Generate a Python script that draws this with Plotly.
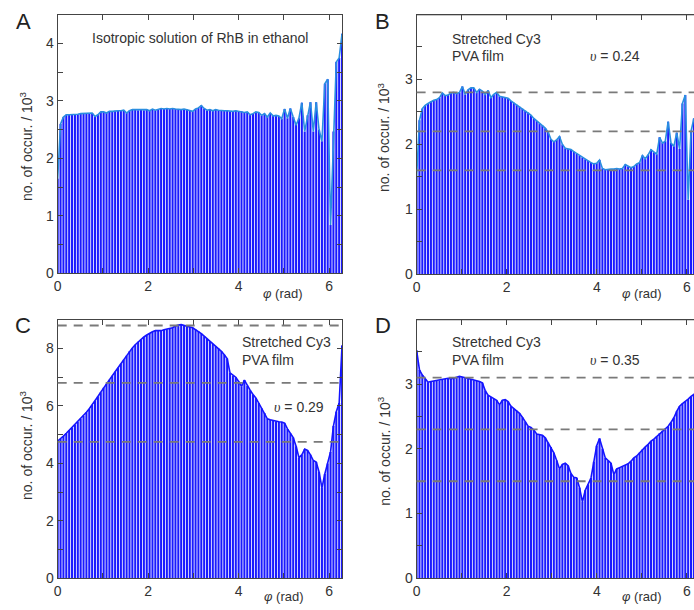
import numpy as np
import plotly.graph_objects as go

# ---------------- data ----------------
n_bins = 100
phi = list(np.linspace(0, 2 * np.pi, n_bins))  # bin positions (rad)

counts_A = [1.65, 2.6, 2.72, 2.76, 2.76, 2.76, 2.77, 2.77, 2.78, 2.78,
            2.78, 2.79, 2.79, 2.73, 2.76, 2.81, 2.81, 2.79, 2.82, 2.82,
            2.83, 2.83, 2.83, 2.84, 2.79, 2.83, 2.85, 2.85, 2.84, 2.85,
            2.84, 2.85, 2.83, 2.86, 2.84, 2.86, 2.87, 2.86, 2.87, 2.86,
            2.87, 2.86, 2.85, 2.85, 2.86, 2.85, 2.84, 2.82, 2.86, 2.88,
            2.92, 2.87, 2.84, 2.85, 2.83, 2.85, 2.84, 2.83, 2.83, 2.83,
            2.82, 2.82, 2.83, 2.82, 2.82, 2.80, 2.81, 2.76, 2.78, 2.81,
            2.80, 2.75, 2.78, 2.72, 2.79, 2.74, 2.75, 2.74, 2.69, 2.86,
            2.70, 2.87, 2.72, 2.58, 2.70, 2.97, 2.47, 2.75, 2.98, 2.47,
            2.98, 2.50, 2.30, 3.30, 3.38, 0.84, 2.47, 3.68, 3.75, 4.17]

counts_B = [1.50, 2.37, 2.55, 2.60, 2.63, 2.66, 2.68, 2.69, 2.72, 2.79,
            2.75, 2.76, 2.79, 2.80, 2.78, 2.80, 2.89, 2.77, 2.84, 2.87,
            2.87, 2.80, 2.85, 2.82, 2.77, 2.83, 2.72, 2.77, 2.80, 2.74,
            2.73, 2.73, 2.71, 2.67, 2.64, 2.61, 2.58, 2.55, 2.52, 2.49,
            2.45, 2.40, 2.36, 2.32, 2.29, 2.25, 2.19, 2.08, 2.04, 2.07,
            2.12, 2.00, 1.94, 1.93, 1.92, 1.89, 1.86, 1.83, 1.80, 1.77,
            1.75, 1.72, 1.70, 1.71, 1.76, 1.63, 1.61, 1.62, 1.62, 1.62,
            1.63, 1.62, 1.63, 1.69, 1.66, 1.64, 1.66, 1.70, 1.72, 1.83,
            1.78, 1.84, 1.92, 1.88, 1.85, 2.11, 2.02, 2.05, 2.35, 2.02,
            1.97, 2.18, 1.93, 2.63, 2.76, 1.15, 2.20, 2.40, 2.30, 2.00]

counts_C = [4.78, 4.85, 4.95, 5.05, 5.15, 5.25, 5.35, 5.45, 5.55, 5.66,
            5.78, 5.90, 6.03, 6.17, 6.33, 6.48, 6.63, 6.77, 6.91, 7.05,
            7.19, 7.33, 7.47, 7.61, 7.75, 7.90, 8.02, 8.13, 8.23, 8.32,
            8.40, 8.47, 8.53, 8.58, 8.62, 8.61, 8.62, 8.65, 8.67, 8.70,
            8.72, 8.78, 8.82, 8.83, 8.81, 8.78, 8.75, 8.72, 8.66, 8.60,
            8.52, 8.43, 8.34, 8.25, 8.16, 8.08, 8.00, 7.90, 7.78, 7.65,
            7.15, 7.06, 7.00, 6.85, 6.68, 6.90, 6.70, 6.55, 6.40, 6.28,
            6.10, 5.92, 5.75, 5.55, 5.52, 5.49, 5.47, 5.45, 5.44, 5.40,
            5.20, 5.05, 4.90, 4.60, 4.20, 4.30, 4.50, 4.45, 4.30, 4.10,
            4.05, 3.70, 3.15, 3.63, 4.00, 4.40, 5.30, 5.80, 6.10, 8.10]

counts_D = [3.52, 3.22, 3.14, 3.08, 3.03, 3.04, 3.05, 3.05, 3.06, 3.07,
            3.08, 3.09, 3.08, 3.09, 3.11, 3.12, 3.11, 3.10, 3.09, 3.08,
            3.06, 3.05, 3.04, 3.02, 2.90, 2.83, 2.80, 2.77, 2.75, 2.68,
            2.75, 2.76, 2.73, 2.66, 2.62, 2.59, 2.55, 2.49, 2.42, 2.35,
            2.33, 2.29, 2.23, 2.22, 2.21, 2.17, 2.10, 2.03, 1.94, 1.82,
            1.69, 1.76, 1.78, 1.74, 1.62, 1.56, 1.55, 1.40, 1.18, 1.36,
            1.45, 1.55, 1.80, 2.05, 2.16, 2.00, 1.86, 1.82, 1.78, 1.60,
            1.69, 1.71, 1.73, 1.75, 1.77, 1.81, 1.86, 1.89, 1.94, 1.99,
            2.03, 2.07, 2.12, 2.15, 2.19, 2.24, 2.28, 2.31, 2.35, 2.41,
            2.48, 2.58, 2.66, 2.70, 2.73, 2.77, 2.81, 2.84, 2.90, 2.95]

levels_B = [2.8, 2.2, 1.6]
levels_C = [8.8, 6.8, 4.75]
levels_D = [3.1, 2.3, 1.5]

labels = ["A", "B", "C", "D"]

# ---------------- figure ----------------
W, H = 694, 610
FONT = "Liberation Sans, Arial, sans-serif"
TXT = "#333333"
AX = "#444444"

def px_x(p):
    return p / W

def px_y(p):
    return 1 - p / H

panels = [
    dict(v=counts_A, lv=[], lc="#2a8ee0", xd=(54, 340), yd=(15, 277), yr=4.5, dt=1, mt=0.5, xr=2 * np.pi, mir=True),
    dict(v=counts_B, lv=levels_B, lc="#2a8ee0", xd=(415, 694), yd=(15, 278), yr=3.995, dt=1, mt=0.5, xr=(694 - 415) / 45.3, mir=False),
    dict(v=counts_C, lv=levels_C, lc="#1414ff", xd=(54, 340), yd=(324, 586), yr=9.0, dt=2, mt=1, xr=2 * np.pi, mir=True),
    dict(v=counts_D, lv=levels_D, lc="#1414ff", xd=(415, 694), yd=(324, 586), yr=3.995, dt=1, mt=0.5, xr=(694 - 415) / 45.3, mir=False),
]

fig = go.Figure()
shapes = []
layout = {}

for k, p in enumerate(panels):
    sx = "" if k == 0 else str(k + 1)
    xa, ya = "x" + sx, "y" + sx
    fig.add_trace(go.Bar(x=phi, y=p["v"], xaxis=xa, yaxis=ya,
                         marker=dict(color="#1a1aff", line=dict(width=0)),
                         showlegend=False, hoverinfo="skip"))
    fig.add_trace(go.Scatter(x=phi, y=p["v"], xaxis=xa, yaxis=ya, mode="lines",
                             line=dict(color=p["lc"], width=1.6),
                             showlegend=False, hoverinfo="skip"))
    common = dict(showline=True, linecolor=AX, linewidth=1, ticks="inside", ticklen=5,
                  tickcolor=AX, tickwidth=1, showgrid=False, zeroline=False,
                  tickfont=dict(family=FONT, size=14, color=TXT))
    layout["xaxis" + sx] = dict(common, domain=[px_x(p["xd"][0]), px_x(p["xd"][1])],
                                range=[0, p["xr"]], anchor=ya, tickmode="linear", tick0=0, dtick=2,
                                minor=dict(ticks="inside", ticklen=5, tickcolor=AX, dtick=1, tick0=0, showgrid=False),
                                mirror="ticks")
    layout["yaxis" + sx] = dict(common, domain=[px_y(p["yd"][1]), px_y(p["yd"][0])],
                                range=[0, p["yr"]], anchor=xa, tickmode="linear", tick0=0, dtick=p["dt"],
                                minor=dict(ticks="inside", ticklen=5, tickcolor=AX, dtick=p["mt"], tick0=0, showgrid=False),
                                mirror="ticks" if p["mir"] else False)
    for lv in p["lv"]:
        shapes.append(dict(type="line", xref=xa + " domain", yref=ya, x0=0, x1=1, y0=lv, y1=lv,
                           line=dict(color="#7a7a7a", width=1.8, dash="9px,7px"), layer="above"))
    if not p["mir"]:
        # top border only (right side cut off in the reference)
        shapes.append(dict(type="line", xref=xa + " domain", yref=ya + " domain", x0=0, x1=1, y0=1, y1=1,
                           line=dict(color=AX, width=1), layer="above"))

ann = []
def add_text(text, xp, yp, size=14, xanchor="center", yanchor="middle", angle=0, color=TXT):
    ann.append(dict(text=text, x=px_x(xp), y=px_y(yp), xref="paper", yref="paper",
                    showarrow=False, xanchor=xanchor, yanchor=yanchor, textangle=angle,
                    font=dict(family=FONT, size=size, color=color)))

for lab, (xp, yp) in zip(labels, [(20, 22), (381, 22), (19, 330), (381, 330)]):
    add_text(lab, xp, yp, size=22, color="#222222")

ytitle = "no. of occur. / 10<sup>3</sup>"
for xp, yp in [(22, 148), (382, 139), (22, 451), (382, 457)]:
    add_text(ytitle, xp, yp, size=14, angle=-90)

xtitle = "<i>φ</i> (rad)"
for xp, yp in [(281, 297), (642, 297), (282, 604), (642, 604)]:
    add_text(xtitle, xp, yp, size=13)

ups = '<span style="font-family:Liberation Serif, Times New Roman, serif"><i>υ</i></span>'
add_text("Isotropic solution of RhB in ethanol", 197, 39)
add_text("Stretched Cy3", 449, 40, xanchor="left")
add_text("PVA film", 449, 57, xanchor="left")
add_text(ups + " = 0.24", 587, 57, xanchor="left")
add_text("Stretched Cy3", 237, 347, xanchor="left")
add_text("PVA film", 237, 365, xanchor="left")
add_text(ups + " = 0.29", 270, 412, xanchor="left")
add_text("Stretched Cy3", 449, 347, xanchor="left")
add_text("PVA film", 449, 365, xanchor="left")
add_text(ups + " = 0.35", 587, 365, xanchor="left")

fig.update_layout(width=W, height=H, margin=dict(l=0, r=0, t=0, b=0),
                  paper_bgcolor="white", plot_bgcolor="white", bargap=0.28,
                  shapes=shapes, annotations=ann, **layout)

fig.write_html("out.html")
